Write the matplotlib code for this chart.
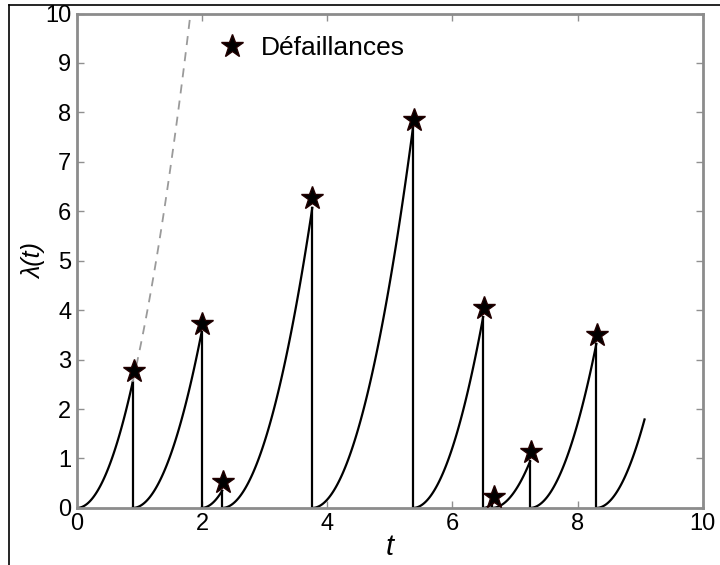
import numpy as np
import matplotlib
matplotlib.use('Agg')
import matplotlib.pyplot as plt
from matplotlib.lines import Line2D

plt.rcParams['font.family'] = ['Liberation Sans', 'DejaVu Sans']

# instants de défaillance (fin de chaque arc) et intensité atteinte
fail_t = [0.89, 1.99, 2.32, 3.76, 5.37, 6.49, 6.63, 7.24, 8.30]
peak_lam = [2.55, 3.55, 0.35, 6.07, 7.70, 3.86, 0.08, 0.94, 3.32]
# position des étoiles (marqueurs)
star_t = [0.91, 2.00, 2.34, 3.76, 5.38, 6.51, 6.66, 7.25, 8.31]
star_lam = [2.76, 3.72, 0.52, 6.26, 7.85, 4.05, 0.23, 1.13, 3.49]
# dernier arc, non terminé
end_t = 9.07
end_lam = 1.79
beta = 2.0  # forme des arcs (loi puissance)
x_ticks = [0, 2, 4, 6, 8, 10]
y_ticks = list(range(0, 11))

fig = plt.figure(figsize=(7.2, 5.65), dpi=100)
ax = fig.add_axes([0.107, 0.101, 0.869, 0.875])

starts = [0.0] + fail_t
ends = fail_t + [end_t]
peaks = peak_lam + [end_lam]
for s, f, p in zip(starts, ends, peaks):
    t = np.linspace(s, f, 120)
    ax.plot(t, p * ((t - s) / (f - s)) ** beta, color='black', lw=1.6)
for f, p in zip(fail_t, peak_lam):
    ax.plot([f, f], [0, p], color='black', lw=1.6)

# prolongement du premier arc sans réparation
t = np.linspace(fail_t[0], 1.9, 80)
ax.plot(t, peak_lam[0] * (t / fail_t[0]) ** 1.92, color='#9a9a9a', lw=1.3,
        dashes=(5, 4))

ax.plot(star_t, star_lam, linestyle='none', marker='*', markersize=17,
        markerfacecolor='black', markeredgecolor='#220000',
        label='Défaillances', zorder=5)

ax.set_xlim(0, 10)
ax.set_ylim(0, 10)
ax.set_xticks(x_ticks)
ax.set_yticks(y_ticks)
ax.tick_params(direction='in', length=5, width=1, color='#909090',
               labelsize=17, top=True, right=True, pad=4)
for sp in ax.spines.values():
    sp.set_color('#8c8c8c')
    sp.set_linewidth(2)

ax.set_xlabel('t', fontsize=21, style='italic', labelpad=-2)
ax.set_ylabel('λ(t)', fontsize=18, style='italic', labelpad=-1)

ax.legend(loc='upper left', bbox_to_anchor=(0.205, 0.975), frameon=False,
          fontsize=19, handlelength=1.2, handletextpad=0.5, borderaxespad=0)

# cadre de la capture
fig.add_artist(Line2D([0.0125, 1], [0.991, 0.991], color='black', lw=1.2))
fig.add_artist(Line2D([0.0125, 0.0125], [0, 0.991], color='black', lw=1.2))

fig.savefig('out.png', dpi=100)
